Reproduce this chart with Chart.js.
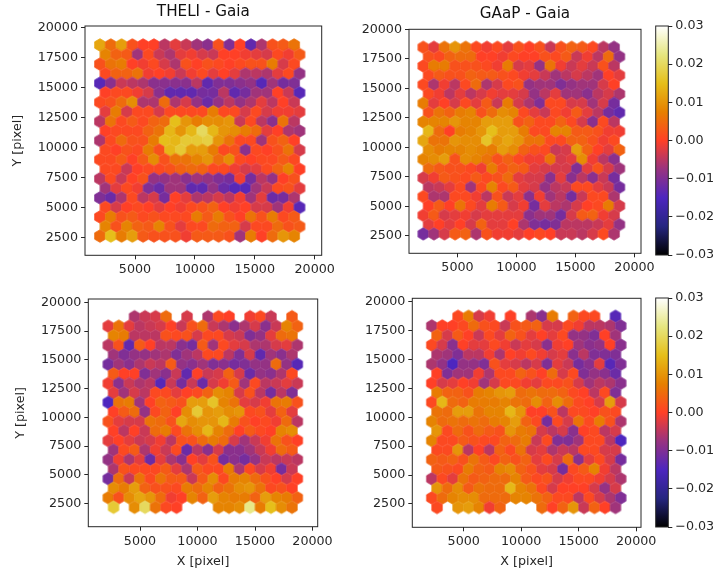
<!DOCTYPE html>
<html><head><meta charset="utf-8">
<script src="https://cdn.jsdelivr.net/npm/chart.js@4/dist/chart.umd.min.js"></script>
<style>html,body{margin:0;padding:0;background:#fff;width:717px;height:574px;overflow:hidden}
canvas{position:absolute;left:0;top:0}</style></head><body>
<canvas id="c1" width="717" height="574"></canvas><canvas id="c2" width="717" height="574"></canvas>
<canvas id="c3" width="717" height="574"></canvas><canvas id="c4" width="717" height="574"></canvas>
<canvas id="c5" width="717" height="574"></canvas><canvas id="c6" width="717" height="574"></canvas>
<script>
// hexbin cell values, in units of 0.001, top row first
const theliTop = [
[12,5,11,2,0,0,-5,-2,-4,-7,-9,2,-10,0,-13,-6,2,3,6],
[8,4,3,-7,1,-4,-6,-2,-1,-3,-4,0,0,-1,-2,-3,1,-1,3],
[2,6,7,0,-1,1,-3,-6,2,0,2,1,0,1,2,2,7,-3,1],
[1,4,4,6,-1,0,-1,-4,-1,1,-2,0,-2,-6,-5,-6,-2,1,-8],
[-14,-9,-4,-5,-6,-9,-9,-9,-9,-5,-13,-10,-10,-9,-8,-14,-7,-11,-10],
[0,1,1,-1,-3,-9,-13,-13,-13,-11,-11,-5,-13,-11,-7,-7,0,-4,-14],
[1,2,5,9,-6,-6,5,-6,-3,-8,-12,-8,-5,-8,-6,-2,-5,0,-4],
[-2,7,-3,1,1,-3,1,1,1,1,7,1,1,-3,1,-3,-1,-1,-2],
[-5,6,1,3,1,4,5,15,10,7,9,9,10,-4,1,-5,-9,6,-5],
[0,1,1,1,4,6,14,10,14,20,14,10,9,7,5,-2,0,-6,-7],
[-6,1,5,2,2,7,15,14,17,17,18,10,6,1,1,-7,2,4,0],
[1,0,2,1,7,2,14,17,11,11,7,1,2,-9,1,0,2,6,-3],
[1,1,3,0,3,9,2,6,6,8,10,5,9,1,0,1,1,3,1],
[1,1,-4,0,1,1,2,4,5,4,1,1,-1,-3,-2,1,4,8,0],
[-5,1,-4,0,2,-8,-8,-7,-9,-7,-8,-10,-11,-1,-11,-5,-8,0,2],
[-7,-2,1,-1,-10,-12,-7,-7,-13,-13,-8,-12,-14,-14,-7,-4,1,2,-2],
[-10,-12,-6,1,-5,-3,-11,0,-2,-6,-5,-3,-5,-1,-7,-2,-12,-11,-6],
[1,-3,0,1,0,-2,0,-1,1,2,4,0,-1,0,-3,-3,-7,-1,-14],
[1,7,2,3,1,2,1,1,1,7,3,7,2,0,6,2,7,1,3],
[8,2,8,4,3,8,2,-2,1,1,5,4,4,-3,1,1,5,2,3],
[5,15,7,11,3,2,2,2,-1,3,3,3,2,-7,7,0,5,10,8]];
const gaapTop = [
[2,-2,6,10,6,1,-1,1,-2,2,0,2,-4,2,4,3,1,-5,-8],
[2,1,4,5,5,0,0,-1,1,0,0,2,1,3,-4,-1,-5,5,-8],
[1,7,7,2,2,2,1,-1,7,-3,-2,-8,6,-1,-4,-2,-4,2,-5],
[1,3,2,2,4,3,3,2,1,-1,-2,-4,-7,-5,-3,-5,-7,0,-2],
[1,-6,-1,-5,1,5,-6,-3,1,2,-8,-7,-7,-10,-8,-7,-7,-3,0],
[1,-1,-5,-2,-5,-3,-1,-2,-2,-3,-8,-5,-2,-7,-7,-9,-5,-3,-6],
[7,-2,0,-3,1,-2,3,-4,7,-3,-6,-10,1,1,-3,-3,-7,-3,-11],
[2,6,4,7,8,2,5,9,8,1,-2,-4,1,-1,3,-2,-5,-11,-13],
[8,8,8,10,8,8,11,11,11,2,4,1,1,4,1,-3,-9,1,-5],
[14,5,0,7,8,10,15,11,11,7,1,1,8,8,3,3,2,-1,-1],
[12,6,6,10,9,9,16,10,12,10,6,6,1,1,4,4,2,-1,1],
[9,7,8,8,9,8,7,11,9,4,2,1,-4,-3,11,4,0,-2,4],
[8,9,11,2,9,8,6,2,4,1,-1,-1,6,-3,-2,9,-1,-5,-9],
[5,3,2,2,1,-1,7,2,4,3,-2,-3,-3,-3,-10,-2,2,-3,-7],
[-3,-1,3,2,1,3,1,2,5,-2,-3,-3,-9,-2,-9,-5,-9,-4,-11],
[-5,-4,-2,1,-7,1,8,1,3,-2,-3,-8,-5,-4,1,1,-2,-4,-11],
[1,-6,-6,1,1,-1,-5,2,-4,-2,-9,-1,-7,-5,-11,-4,1,1,-6],
[0,3,0,6,1,-2,7,3,-3,-1,-11,-2,-5,-6,-3,0,1,7,-3],
[-1,3,-3,-2,-1,-3,-2,-2,-2,-2,-9,-7,-7,-11,-3,3,4,-1,-3],
[-2,0,-2,0,-3,4,-2,-2,0,-6,-10,-11,-10,-5,-5,-5,-4,-2,-8],
[-11,-7,-3,3,4,-6,2,-1,-1,-2,0,1,0,-4,-4,-5,-3,1,-6]];
const theliBottom = [
[null,null,-6,-4,-3,5,null,-3,null,-6,1,0,null,-1,1,-4,null,3],
[-2,6,-2,-5,-4,-3,0,-4,2,5,-4,-6,-9,-6,-3,-9,-4,8,4],
[8,7,-5,-5,-5,2,1,2,-3,1,1,-3,-4,-10,-8,-2,5,6],
[-5,2,-13,3,0,-5,-5,-9,-11,3,-7,1,-2,-3,-6,-6,-3,-2,-6],
[-7,-10,-8,-8,-7,-6,-10,-7,-5,1,1,-5,-10,-3,-13,-7,-9,-6],
[-11,-7,-9,-6,-4,-5,3,-8,-9,-7,-10,-9,-11,-10,-8,-8,5,-8,-14],
[3,0,0,-10,-7,-9,-4,-13,0,-4,-3,4,-3,-12,-8,-9,-6,1],
[-1,-9,-4,-6,-5,-14,-4,-11,-4,-12,-3,-1,3,-7,1,-5,-4,-2,-4],
[-2,-7,-3,-5,1,1,-2,0,1,4,9,8,-3,2,-5,-11,-5,-10],
[-15,6,7,-7,0,4,3,2,11,11,16,8,6,-2,-3,-1,6,7,2],
[0,3,5,-8,1,4,0,9,17,10,11,9,10,1,2,-2,4,-2],
[2,-2,-3,-3,6,5,2,12,9,10,10,14,7,2,0,1,-1,5,-5],
[0,-5,0,-4,5,7,1,6,9,14,8,5,0,3,1,0,8,9],
[-2,0,-2,-4,-3,-1,-5,2,2,5,7,5,-3,-7,-4,-1,6,2,0],
[-7,1,3,-6,-1,-4,1,-12,-5,-9,-3,-9,-9,-7,-4,-1,5,3],
[-8,-1,-6,-2,-12,-2,-6,-9,0,-2,2,-11,-9,-11,-8,-4,-5,-4,-5],
[-6,2,1,1,1,3,-2,-6,3,1,1,7,-6,1,-3,-1,-11,-4],
[-11,5,-4,6,1,6,3,3,-4,3,9,1,7,8,5,2,0,-3,0],
[9,7,11,4,2,2,1,7,5,8,4,6,9,10,6,1,2,0],
[7,2,9,12,10,5,-1,0,8,4,11,8,7,7,4,11,8,7,4],
[17,null,9,20,6,1,0,null,null,null,8,8,9,23,7,15,9,6]];
const gaapBottom = [
[null,null,1,7,-3,-1,null,0,null,-6,-9,7,null,4,1,1,null,-14],
[-6,0,0,1,5,2,1,-4,2,3,4,-3,-3,1,-1,-5,-5,-6,-10],
[4,-3,3,0,-4,1,-2,4,2,-2,0,-2,1,-8,-8,-10,0,-7],
[1,-3,-9,0,-2,-2,1,-1,-4,-2,-3,-9,-1,0,-7,-9,-8,0,-9],
[-6,-7,-10,-5,-5,-1,-6,0,-1,1,-1,-3,-2,-9,-5,-10,-10,-10],
[-6,-8,-15,-8,-8,-10,2,-2,-3,-5,-3,-10,-2,-4,-11,-9,-2,-14,-10],
[0,-10,-7,-7,-1,-6,1,1,4,2,0,5,-3,1,-10,-8,-9,-12],
[0,-3,-2,0,-1,-7,-3,1,1,-1,-2,1,1,2,-3,-7,-5,-6,-9],
[7,4,4,2,7,8,10,11,5,6,5,5,4,1,0,-5,1,-10],
[1,14,5,4,7,7,7,8,6,5,9,4,9,5,1,0,-3,11,-3],
[6,5,11,11,6,8,8,14,10,0,0,2,-5,1,1,0,2,1],
[8,5,6,5,6,5,7,8,11,4,1,-11,1,-3,6,1,7,2,-6],
[10,1,5,2,5,3,2,10,7,6,-3,-5,-3,-9,0,1,-5,-3],
[8,1,1,3,2,1,1,4,5,7,-4,1,-10,-10,-7,1,1,-5,-15],
[1,1,10,-5,0,-5,4,1,6,-3,-2,-6,-4,-5,1,1,-3,-3],
[4,3,4,2,6,3,1,4,2,4,-2,1,-3,5,-9,-2,1,-3,-11],
[3,2,1,7,4,3,8,9,4,2,-2,-3,-11,1,3,8,-1,-5],
[-5,1,-2,6,3,4,5,5,8,3,1,2,-3,-1,1,1,-1,-3,-6],
[10,5,9,3,6,5,5,14,8,6,1,-3,0,0,0,-3,-8,-3],
[1,5,8,9,9,5,5,5,8,8,6,4,1,1,-5,1,-3,-6,-10],
[1,null,10,11,8,-1,4,null,null,null,5,0,4,10,-4,4,0,-7]];
const xTickValues = [5000,10000,15000,20000];
const yTickValues = [2500,5000,7500,10000,12500,15000,17500,20000];
const cbarRange = [-0.03,0.03];
const cbarTicks = [-0.03,-0.02,-0.01,0,0.01,0.02,0.03];
const cmapStops = [[0,0,0],[38,38,128],[77,38,191],[153,51,128],[255,64,38],[230,128,0],[230,191,26],[230,230,128],[255,255,255]];

const FONT='"DejaVu Sans"', INK='#262626';
function cmap(v){
  let t=Math.max(0,Math.min(1,(v-cbarRange[0])/(cbarRange[1]-cbarRange[0])))*(cmapStops.length-1);
  const i=Math.min(cmapStops.length-2,Math.floor(t)),f=t-i,a=cmapStops[i],b=cmapStops[i+1];
  return `rgb(${[0,1,2].map(k=>Math.round(a[k]+(b[k]-a[k])*f)).join(',')})`;
}
const hexCache={};
function hexSprite(color,w,R){
  const key=color+w+R; if(hexCache[key])return hexCache[key];
  const c=document.createElement('canvas');c.width=20;c.height=20;
  const g=c.getContext('2d');g.translate(10,10);g.fillStyle=g.strokeStyle=color;g.lineWidth=.7;
  g.beginPath();[[0,-R],[w/2,-R/2],[w/2,R/2],[0,R],[-w/2,R/2],[-w/2,-R/2]].forEach((p,i)=>i?g.lineTo(p[0],p[1]):g.moveTo(p[0],p[1]));
  g.closePath();g.fill();g.stroke();
  return hexCache[key]=c;
}
const framePlugin={id:'frame',afterDraw(ch){const a=ch.chartArea,g=ch.ctx;g.save();g.strokeStyle=INK;g.lineWidth=1;g.strokeRect(a.left,a.top,a.width,a.height);g.restore();}};

function panel(id,rows,o){
  const pts=[];
  rows.forEach((row,r)=>row.forEach((v,k)=>{ if(v===null)return;
    pts.push({x:(r%2?o.x1:o.x0)+k*o.dx,y:o.yTop-r*o.dy,v:v/1000}); }));
  const tick={color:INK,font:{family:FONT,size:12.7},maxRotation:0,minRotation:0,autoSkip:false,padding:3};
  const grid={drawOnChartArea:false,drawTicks:true,tickLength:4,color:INK,tickWidth:1};
  new Chart(document.getElementById(id),{type:'scatter',plugins:[framePlugin],
    data:{datasets:[{data:pts,pointRadius:5,pointStyle:c=>hexSprite(cmap(c.raw.v),o.w,o.R)}]},
    options:{responsive:false,animation:false,events:[],clip:false,
      layout:{padding:{left:o.f[0]-o.yW,top:o.padTop,right:717-o.f[1],bottom:574-o.f[3]-o.xH}},
      plugins:{legend:{display:false},tooltip:{enabled:false},
        title:{display:!!o.title,text:o.title,fullSize:false,color:'#111',font:{family:FONT,size:15.2,weight:'normal',lineHeight:1.2},padding:{top:0,bottom:o.f[2]-o.padTop-18.24}}},
      scales:{
        x:{type:'linear',min:o.xr[0],max:o.xr[1],grid,border:{display:false},
          afterBuildTicks:s=>{s.ticks=xTickValues.map(v=>({value:v}));},
          afterFit:s=>{s.height=o.xH;},
          ticks:{...tick,callback:v=>String(v)},
          title:{display:!!o.xLabel,text:o.xLabel,color:INK,font:{family:FONT,size:12.7},padding:{top:0,bottom:0}}},
        y:{type:'linear',min:o.yr[0],max:o.yr[1],grid,border:{display:false},
          afterBuildTicks:s=>{s.ticks=yTickValues.map(v=>({value:v}));},
          afterFit:s=>{s.width=o.yW;},
          ticks:{...tick,callback:v=>String(v)},
          title:{display:!!o.yLabel,text:o.yLabel,color:INK,font:{family:FONT,size:12.7},padding:{top:0,bottom:0}}}
      }}});
}
function colorbar(id,f){
  new Chart(document.getElementById(id),{type:'bar',plugins:[framePlugin],
    data:{labels:[''],datasets:[{data:[cbarRange],barPercentage:1,categoryPercentage:1,
      backgroundColor:c=>{const a=c.chart.chartArea;if(!a)return '#888';
        const g=c.chart.ctx.createLinearGradient(0,a.bottom,0,a.top);
        cmapStops.forEach((s,i)=>g.addColorStop(i/(cmapStops.length-1),`rgb(${s.join(',')})`));return g;}}]},
    options:{responsive:false,animation:false,events:[],
      layout:{padding:{left:f[0],top:f[2],right:0,bottom:574-f[3]}},
      plugins:{legend:{display:false},tooltip:{enabled:false}},
      scales:{x:{display:false},
        y:{position:'right',min:cbarRange[0],max:cbarRange[1],border:{display:false},
          grid:{drawOnChartArea:false,drawTicks:true,tickLength:4,color:INK},
          afterBuildTicks:s=>{s.ticks=cbarTicks.map(v=>({value:v}));},
          afterFit:s=>{s.width=717-f[1];},
          ticks:{color:INK,font:{family:FONT,size:12.7},padding:3,autoSkip:false,
            callback:v=>(v<0?'\u2212':'')+Math.abs(v).toFixed(2)}}}}});
}
panel('c1',theliTop,{f:[85,321.7,26,255.3],xr:[826,20585],yr:[1000,20108],x0:2078,x1:2528,dx:900,yTop:18525,dy:796,w:10.77,R:6.37,yW:75,xH:26,padTop:3,title:'THELI - Gaia',yLabel:'Y [pixel]'});
panel('c2',gaapTop,{f:[409,641,29.3,253.3],xr:[890,20551],yr:[1034,20000],x0:2102,x1:2551,dx:898,yTop:18475,dy:790,w:10.6,R:6.22,yW:60,xH:26,padTop:5,title:'GAaP - Gaia'});
panel('c3',theliBottom,{f:[88.3,317.7,299,526.7],xr:[504,20452],yr:[500,20287],x0:2696,x1:2240,dx:913,yTop:18748,dy:828,w:10.5,R:6.35,yW:75,xH:43,padTop:299,yLabel:'Y [pixel]',xLabel:'X [pixel]'});
panel('c4',gaapBottom,{f:[412.3,641,298.3,527.3],xr:[530,20417],yr:[469,20313],x0:2678,x1:2222,dx:913,yTop:18748,dy:828,w:10.5,R:6.35,yW:60,xH:42,padTop:298.3,xLabel:'X [pixel]'});
colorbar('c5',[655.7,668.3,26,255]);
colorbar('c6',[655.7,668.3,298,527]);
</script></body></html>
